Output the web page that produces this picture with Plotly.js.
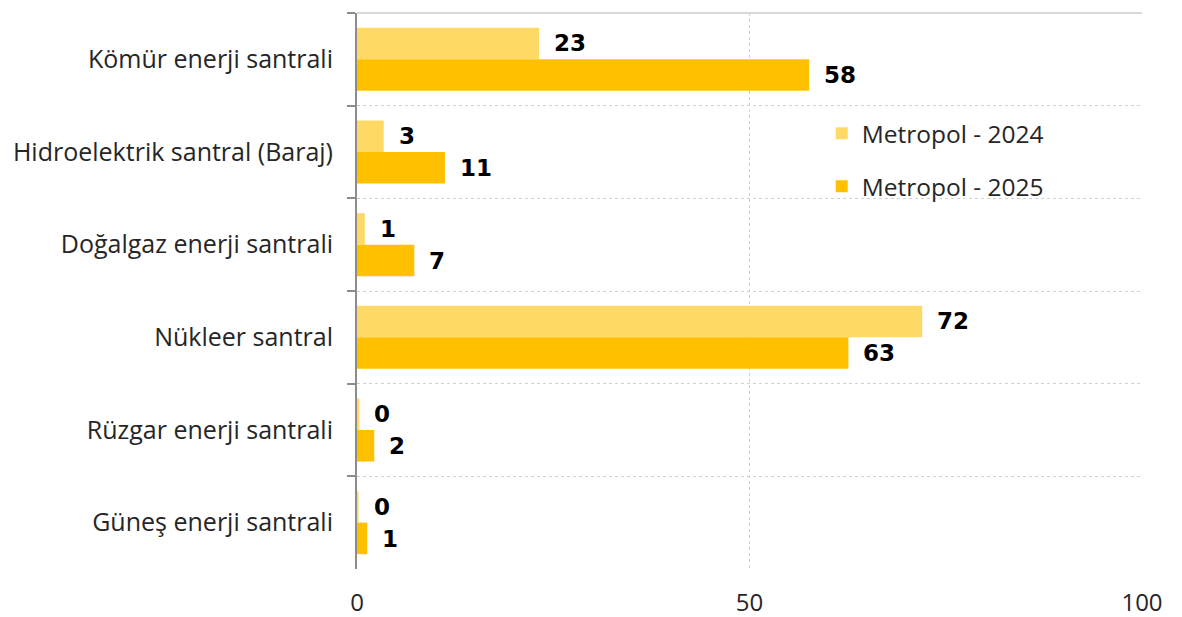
<!DOCTYPE html>
<html><head><meta charset="utf-8">
<script src="https://cdn.plot.ly/plotly-3.0.1.min.js"></script>
<style>html,body{margin:0;padding:0;background:#fff}</style>
</head><body><div id="chart" style="width:1182px;height:617px"></div>
<script>
const categories = ["Kömür enerji santrali","Hidroelektrik santral (Baraj)","Doğalgaz enerji santrali","Nükleer santral","Rüzgar enerji santrali","Güneş enerji santrali"];
const series2024 = [23.2, 3.4, 1.0, 72.0, 0.3, 0.2];
const series2025 = [57.6, 11.2, 7.3, 62.6, 2.2, 1.3];
const labels2024 = ["23","3","1","72","0","0"];
const labels2025 = ["58","11","7","63","2","1"];
const seriesNames = ["Metropol - 2024","Metropol - 2025"];
const xTicks = [0, 50, 100];

const colors = ["#FFD966", "#FFC000"];
const traces = [
  {type:"bar", orientation:"h", name:seriesNames[0], y:categories, x:series2024, marker:{color:colors[0]}, legendgroup:"a", hoverinfo:"x"},
  {type:"bar", orientation:"h", name:seriesNames[1], y:categories, x:series2025, marker:{color:colors[1]}, legendgroup:"b", hoverinfo:"x"}
];
const lblFont = {family:"DejaVu Sans", size:23, color:"#000", weight:"bold"};
const ann = [];
categories.forEach((c,i)=>{
  ann.push({x:series2024[i], y:c, xref:"x", yref:"y", text:labels2024[i], showarrow:false, xanchor:"left", xshift:13, yshift:16, font:lblFont});
  ann.push({x:series2025[i], y:c, xref:"x", yref:"y", text:labels2025[i], showarrow:false, xanchor:"left", xshift:13, yshift:-16, font:lblFont});
});
const layout = {
  width:1182, height:617,
  margin:{l:357, r:40, t:13, b:48},
  paper_bgcolor:"#fff", plot_bgcolor:"#fff",
  barmode:"group", bargap:0.32, bargroupgap:0,
  font:{family:"Open Sans, Liberation Sans, Arial, sans-serif", color:"#262626"},
  xaxis:{range:[0,100], tickvals:xTicks, ticktext:xTicks.map(String), showgrid:true, gridcolor:"#d0d0d0", griddash:"dot", gridwidth:1,
    zeroline:false, showline:false, ticks:"", ticklabelstandoff:17, tickfont:{size:24, color:"#262626"}},
  yaxis:{autorange:"reversed", type:"category", tickson:"boundaries", ticks:"outside", ticklen:8, tickcolor:"#8c8c8c", tickwidth:2,
    showline:true, linecolor:"#8c8c8c", linewidth:2, showgrid:true, gridcolor:"#d0d0d0", griddash:"dot", gridwidth:1,
    ticklabelstandoff:17, tickfont:{size:25, color:"#262626"}},
  legend:{x:0.592, y:0.824, xanchor:"left", yanchor:"top", bgcolor:"rgba(0,0,0,0)", font:{size:24.5, color:"#262626"}, tracegroupgap:18, itemwidth:30, traceorder:"grouped"},
  annotations:ann,
  shapes:[{type:"line", xref:"paper", yref:"paper", x0:0, x1:1, y0:1, y1:1, line:{color:"#d9d9d9", width:2}}],
  showlegend:true
};
Plotly.newPlot("chart", traces, layout, {displayModeBar:false, staticPlot:true});
</script></body></html>
